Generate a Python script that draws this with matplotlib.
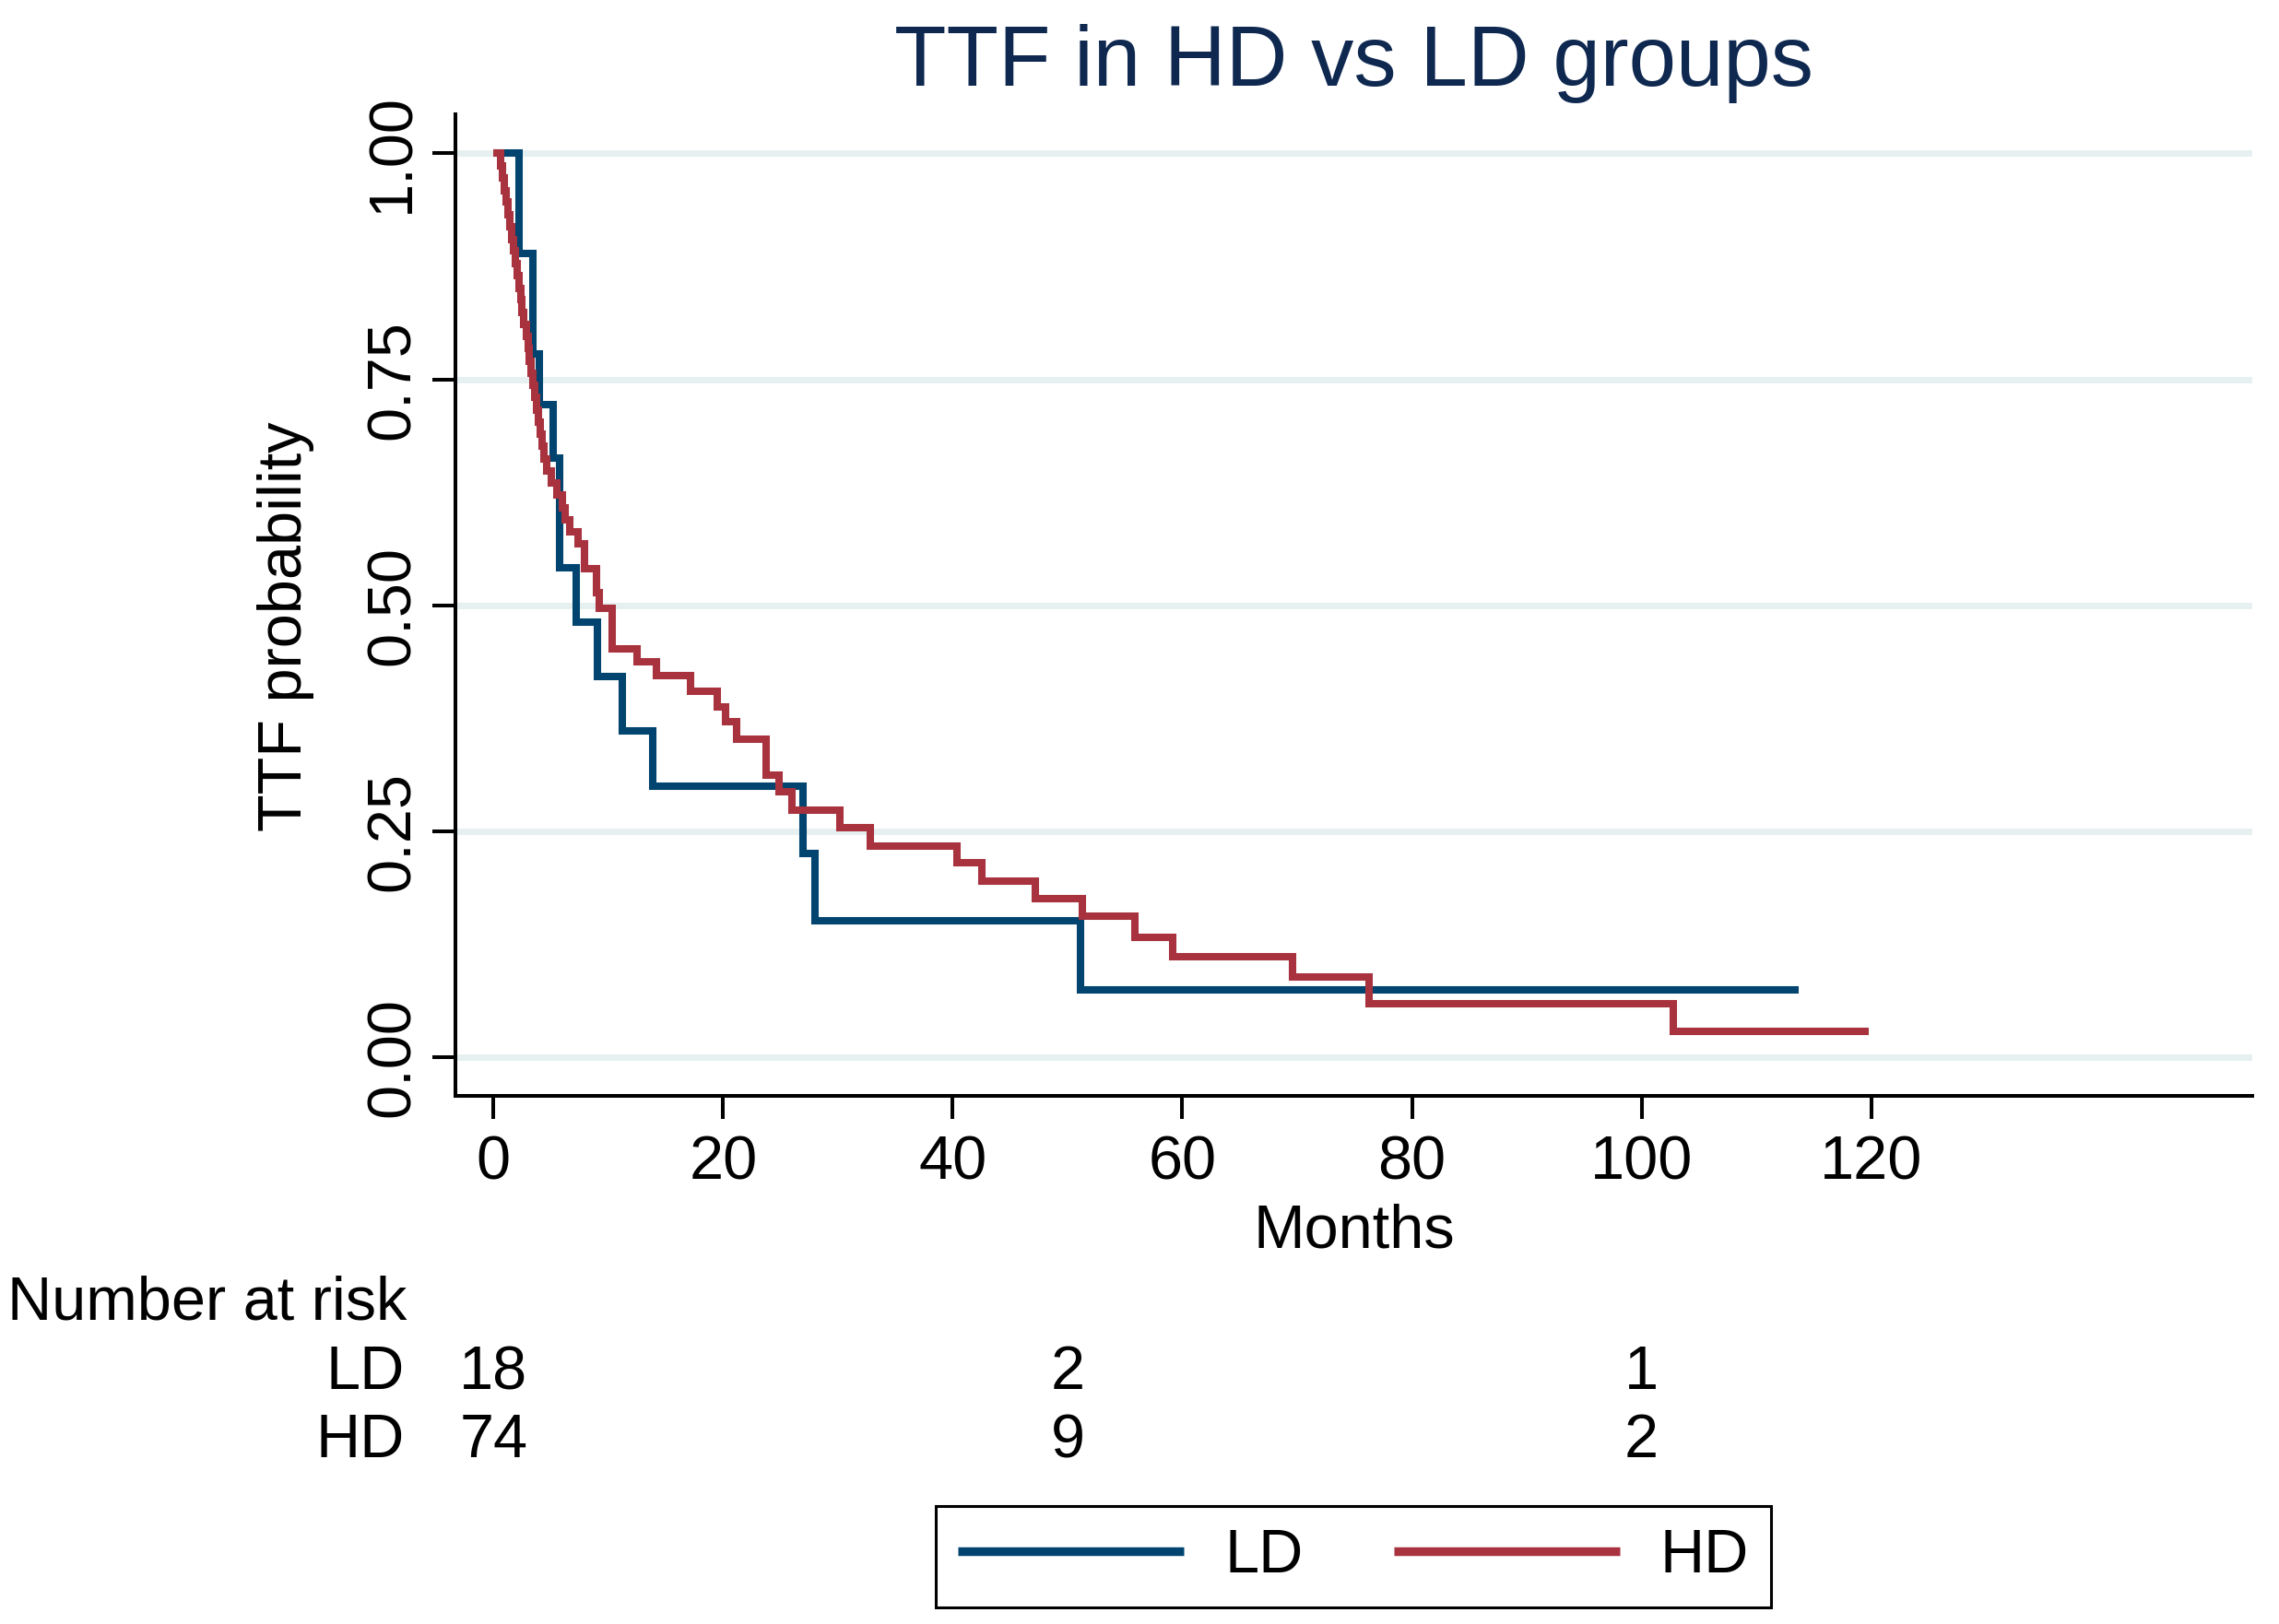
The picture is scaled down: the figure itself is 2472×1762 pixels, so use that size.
import matplotlib
matplotlib.use("Agg")
import matplotlib.pyplot as plt
from matplotlib.transforms import blended_transform_factory

plt.rcParams['font.family'] = ['Liberation Sans', 'DejaVu Sans']

# Kaplan-Meier steps (months, survival after each drop)
ld_time = [0, 2.25, 3.4, 4.0, 5.2, 5.8, 7.2, 9.05, 11.2, 13.9, 27.0, 28.0, 51.1, 113.7]
ld_surv = [1.0, 0.889, 0.778, 0.722, 0.663, 0.542, 0.482, 0.421, 0.361, 0.300,
           0.226, 0.151, 0.075, 0.075]

hd_time = [0, 0.6, 0.75, 0.95, 1.1, 1.3, 1.45, 1.6, 1.75, 1.9, 2.05, 2.2, 2.35,
           2.5, 2.65, 2.85, 3.0, 3.15, 3.3, 3.45, 3.6, 3.75, 3.9, 4.05, 4.2,
           4.4, 4.6, 5.06, 5.5, 6.0, 6.27, 6.67, 7.34, 7.93, 9.0, 9.2, 10.34,
           12.5, 14.2, 17.2, 19.5, 20.2, 21.2, 23.75, 24.9, 26.0, 30.2, 32.8,
           40.4, 42.5, 47.2, 51.3, 55.9, 59.2, 69.6, 76.3, 102.8, 119.8]
hd_surv = [1.0, 0.986, 0.973, 0.959, 0.946, 0.932, 0.919, 0.905, 0.892, 0.878,
           0.865, 0.851, 0.838, 0.824, 0.811, 0.797, 0.784, 0.770, 0.757, 0.743,
           0.730, 0.716, 0.703, 0.689, 0.676, 0.662, 0.649, 0.635, 0.622, 0.608,
           0.595, 0.581, 0.568, 0.541, 0.514, 0.497, 0.452, 0.438, 0.422, 0.405,
           0.388, 0.371, 0.352, 0.312, 0.294, 0.274, 0.254, 0.234, 0.215, 0.195,
           0.1755, 0.156, 0.133, 0.111, 0.089, 0.059, 0.029, 0.029]

# number at risk table
risk_times = [0, 50, 100]
risk_ld = [18, 2, 1]
risk_hd = [74, 9, 2]

x_ticks = [0, 20, 40, 60, 80, 100, 120]
y_ticks = [0, 0.25, 0.5, 0.75, 1.0]

ld_color = '#00446f'
hd_color = '#a8323e'
fs = 24

fig = plt.figure(figsize=(12.36, 8.81), dpi=200)
ax = fig.add_axes([0.1997, 0.325, 0.9883 - 0.1997, 0.9296 - 0.325])

ax.step(ld_time, ld_surv, where='post', color=ld_color, lw=2.9,
        solid_joinstyle='miter', solid_capstyle='butt', label='LD')
ax.step(hd_time, hd_surv, where='post', color=hd_color, lw=2.9,
        solid_joinstyle='miter', solid_capstyle='butt', label='HD')

ax.set_xlim(-3.34, 153.2)
ax.set_ylim(-0.0428, 1.0431)
ax.set_xticks(x_ticks)
ax.set_yticks(y_ticks)
ax.set_yticklabels(['%.2f' % v for v in y_ticks], rotation=90, va='center')

ax.yaxis.grid(True, color='#e6f0f0', lw=2.5)
ax.xaxis.grid(False)
ax.set_axisbelow(True)

for s in ['top', 'right']:
    ax.spines[s].set_visible(False)
for s in ['left', 'bottom']:
    ax.spines[s].set_linewidth(1.45)

ax.tick_params(axis='both', direction='out', length=9, width=1.45,
               labelsize=fs, color='black')
ax.tick_params(axis='y', pad=4)
ax.tick_params(axis='x', pad=6)

fig.text(0.594, 0.9474, 'TTF in HD vs LD groups', ha='center', va='baseline',
         fontsize=33.3, color='#0e2850')
fig.text(0.1254, 0.614, 'TTF probability', rotation=90, ha='center',
         va='center', fontsize=fs)
fig.text(0.594, 0.2316, 'Months', ha='center', va='baseline', fontsize=fs)

# risk table under the axis
fig.text(0.1785, 1 - 1432 / 1762, 'Number at risk', ha='right', va='baseline',
         fontsize=fs)
fig.text(0.1775, 1 - 1507 / 1762, 'LD', ha='right', va='baseline', fontsize=fs)
fig.text(0.1775, 1 - 1581 / 1762, 'HD', ha='right', va='baseline', fontsize=fs)
trans = blended_transform_factory(ax.transData, fig.transFigure)
for t, a, b in zip(risk_times, risk_ld, risk_hd):
    ax.text(t, 1 - 1507 / 1762, str(a), transform=trans, ha='center',
            va='baseline', fontsize=fs, clip_on=False)
    ax.text(t, 1 - 1581 / 1762, str(b), transform=trans, ha='center',
            va='baseline', fontsize=fs, clip_on=False)

leg = fig.legend(loc='center', bbox_to_anchor=(0.594, 0.0412), ncol=2,
                 fontsize=fs, handlelength=3.67, handletextpad=0.66,
                 columnspacing=1.48, borderpad=0.36, fancybox=False,
                 framealpha=1, edgecolor='black')
leg.get_frame().set_linewidth(1.1)
for h in leg.get_lines():
    h.set_linewidth(3.4)

fig.savefig('out.png', dpi=200, facecolor='white')
